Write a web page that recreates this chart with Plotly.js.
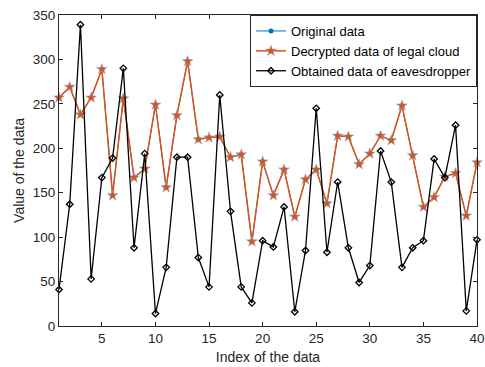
<!DOCTYPE html>
<html><head><meta charset="utf-8">
<script src="https://cdn.plot.ly/plotly-3.0.1.min.js"></script>
<style>html,body{margin:0;padding:0;background:#fff}#chart{width:485px;height:367px}</style>
</head><body><div id="chart"></div>
<script>
const indexValues = Array.from({length: 40}, (_, i) => i + 1);
const originalData = [257,269,238,257,289,147,256,167,177,249,156,237,298,210,212,213,190,193,95,185,
  147,176,123,165,176,138,214,213,182,194,214,209,248,192,134,145,168,172,124,184];
const decryptedData = originalData.slice();
const eavesdropperData = [41,137,339,53,167,189,290,88,194,14,66,190,190,77,44,260,129,44,26,96,
  89,134,16,85,245,83,162,88,49,68,197,162,66,88,96,188,167,226,17,97];
const seriesNames = ["Original data", "Decrypted data of legal cloud", "Obtained data of eavesdropper"];

const axisColor = '#262626';
const fontFam = 'Arial, "Liberation Sans", Helvetica, sans-serif';
const traces = [
  {x: indexValues, y: originalData, name: seriesNames[0], mode: 'lines+markers', cliponaxis: false,
   line: {color: '#0072BD', width: 1}, marker: {symbol: 'circle', size: 5, color: '#0072BD'}},
  {x: indexValues, y: decryptedData, name: seriesNames[1], mode: 'lines+markers', cliponaxis: false,
   line: {color: '#D95319', width: 1.5}, marker: {symbol: 'star', size: 8, color: '#D95319', line: {color: '#8fa8c4', width: 0.6}}},
  {x: indexValues, y: eavesdropperData, name: seriesNames[2], mode: 'lines+markers', cliponaxis: false,
   line: {color: '#000000', width: 1.3}, marker: {symbol: 'diamond-open', size: 5, color: '#000000', line: {width: 1.3}}}
];
const layout = {
  width: 485, height: 367,
  margin: {l: 59, r: 8, t: 15, b: 41},
  paper_bgcolor: '#fff', plot_bgcolor: '#fff',
  font: {family: fontFam, size: 13.5, color: axisColor},
  showlegend: true,
  legend: {x: 1, y: 1, xanchor: 'right', yanchor: 'top', bgcolor: '#fff', bordercolor: axisColor,
    borderwidth: 1, font: {family: fontFam, size: 13, color: '#000'}, tracegroupgap: 0, itemwidth: 30},
  xaxis: {range: [1, 40], tickvals: [5,10,15,20,25,30,35,40], ticks: 'inside', ticklen: 4,
    tickcolor: axisColor, showline: true, linecolor: axisColor, linewidth: 1, mirror: 'ticks',
    showgrid: false, zeroline: false, title: {text: 'Index of the data', standoff: 6, font: {size: 14}}},
  yaxis: {range: [0, 350], dtick: 50, ticks: 'inside', ticklen: 4,
    tickcolor: axisColor, showline: true, linecolor: axisColor, linewidth: 1, mirror: 'ticks',
    showgrid: false, zeroline: false, title: {text: 'Value of the data', standoff: 4, font: {size: 14}}}
};
Plotly.newPlot('chart', traces, layout, {displayModeBar: false, staticPlot: true});
</script></body></html>
